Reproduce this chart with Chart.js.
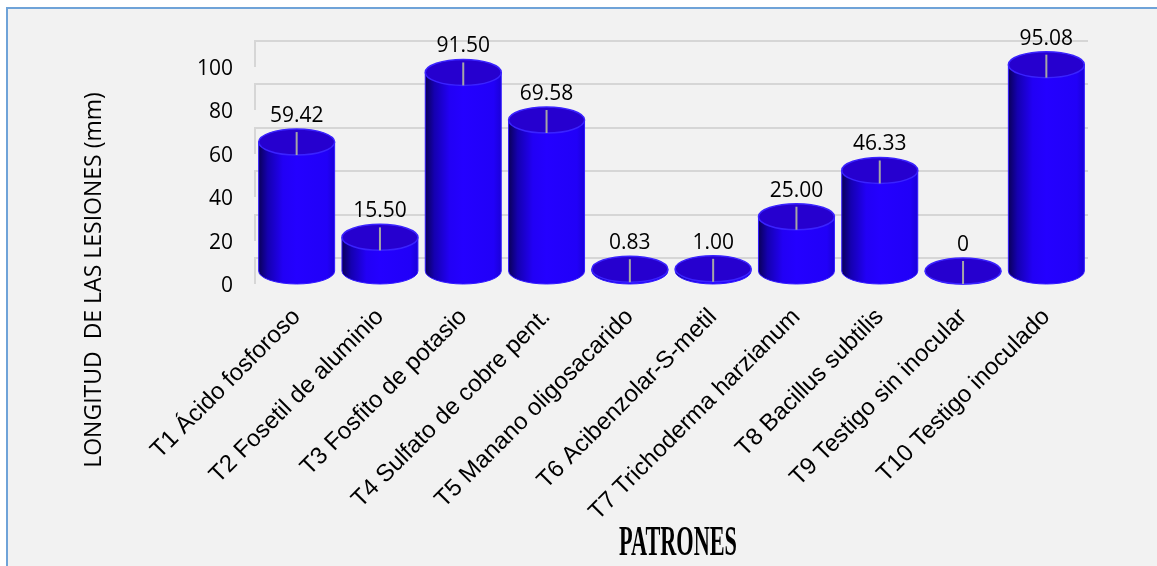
<!DOCTYPE html>
<html lang="es">
<head>
<meta charset="UTF-8">
<title>Longitud de las lesiones</title>
<style>
  html, body { margin: 0; padding: 0; background: #fff; }
  #marco {
    position: absolute; left: 6px; top: 7px; width: 1151px; height: 559px;
    box-sizing: border-box; background: #f2f2f2;
    border-left: 2px solid #6fa3d8; border-top: 2px solid #6fa3d8;
  }
  #contenedor { position: absolute; left: 0; top: 0; width: 1157px; height: 566px; }
</style>
</head>
<body>
<div id="marco"></div>
<div id="contenedor"><canvas id="grafico"></canvas></div>

<script src="https://cdn.jsdelivr.net/npm/chart.js"></script>
<script>
  // datos
  const tratamientos = [
    'T1 Ácido fosforoso', 'T2 Fosetil de aluminio', 'T3 Fosfito de potasio',
    'T4 Sulfato de cobre pent.', 'T5 Manano oligosacarido', 'T6 Acibenzolar-S-metil',
    'T7 Trichoderma harzianum', 'T8 Bacillus subtilis', 'T9 Testigo sin inocular',
    'T10 Testigo inoculado'
  ];
  const longitud = [59.42, 15.50, 91.50, 69.58, 0.83, 1.00, 25.00, 46.33, 0, 95.08];
  const marcasY = [0, 20, 40, 60, 80, 100];

  const tituloY = 'LONGITUD  DE LAS LESIONES (mm)';
  const tituloX = 'PATRONES';

  const PROF = 13;   // media profundidad (radio vertical de la elipse)

  // pared de fondo con lineas de division y la pared lateral
  const fondo3d = {
    id: 'fondo3d',
    beforeDatasetsDraw(chart) {
      const { ctx, chartArea, scales } = chart;
      ctx.save();
      ctx.strokeStyle = '#d6d6d6';
      ctx.lineWidth = 2;
      marcasY.forEach(v => {
        const y = Math.round(scales.y.getPixelForValue(v)) - PROF;
        ctx.beginPath();
        ctx.moveTo(chartArea.left, y + 2 * PROF);
        ctx.lineTo(chartArea.left, y);
        ctx.lineTo(chartArea.right, y);
        ctx.stroke();
      });
      ctx.restore();
    }
  };

  // cilindros dibujados sobre las barras (transparentes) de Chart.js
  const cilindros = {
    id: 'cilindros',
    afterDatasetsDraw(chart) {
      const { ctx } = chart;
      const meta = chart.getDatasetMeta(0);
      ctx.save();
      meta.data.forEach((barra, i) => {
        const { x, y, base, width } = barra.getProps(['x', 'y', 'base', 'width'], true);
        const rx = width / 2;
        const ry = PROF;

        const grad = ctx.createLinearGradient(x - rx, 0, x + rx, 0);
        grad.addColorStop(0, '#0a0058');
        grad.addColorStop(0.12, '#1500b0');
        grad.addColorStop(0.32, '#2200f5');
        grad.addColorStop(0.5, '#2400ff');
        grad.addColorStop(0.9, '#2100f8');
        grad.addColorStop(1, '#1a00d8');

        // cuerpo
        ctx.beginPath();
        ctx.moveTo(x - rx, y);
        ctx.lineTo(x - rx, base);
        ctx.ellipse(x, base, rx, ry, 0, Math.PI, 0, true);
        ctx.lineTo(x + rx, y);
        ctx.closePath();
        ctx.fillStyle = grad;
        ctx.fill();
        ctx.strokeStyle = '#3018ff';
        ctx.lineWidth = 1;
        ctx.stroke();

        // tapa
        ctx.beginPath();
        ctx.ellipse(x, y, rx, ry, 0, 0, Math.PI * 2);
        ctx.fillStyle = '#2600cf';
        ctx.fill();
        ctx.strokeStyle = '#3a22ff';
        ctx.lineWidth = 1.5;
        ctx.stroke();

        // linea gris en la tapa
        ctx.beginPath();
        ctx.moveTo(x, y - 10);
        ctx.lineTo(x, y + 13);
        ctx.strokeStyle = '#a6a6a6';
        ctx.lineWidth = 2;
        ctx.stroke();

        // etiqueta de valor
        const v = longitud[i];
        ctx.fillStyle = '#000';
        ctx.font = '21px "Open Sans"';
        ctx.textAlign = 'center';
        ctx.textBaseline = 'middle';
        ctx.fillText(v === 0 ? '0' : v.toFixed(2), x, y - ry - 13);
      });
      ctx.restore();
    }
  };

  // titulos de los ejes
  const titulos = {
    id: 'titulos',
    afterDraw(chart) {
      const { ctx } = chart;
      ctx.save();
      ctx.fillStyle = '#000';
      ctx.textAlign = 'center';
      ctx.textBaseline = 'middle';

      ctx.save();
      ctx.translate(94, 280);
      ctx.rotate(-Math.PI / 2);
      ctx.font = '23px "Open Sans"';
      ctx.fillText(tituloY, 0, 0);
      ctx.restore();

      ctx.save();
      ctx.translate(678, 544);
      ctx.scale(0.53, 1);
      ctx.font = 'bold 42px "Liberation Serif"';
      ctx.fillText(tituloX, 0, 0);
      ctx.restore();

      ctx.restore();
    }
  };

  const ctx = document.getElementById('grafico');

  new Chart(ctx, {
    type: 'bar',
    data: {
      labels: tratamientos,
      datasets: [{
        label: 'Longitud de las lesiones',
        data: longitud,
        backgroundColor: 'rgba(0,0,0,0)',
        borderWidth: 0,
        barPercentage: 0.912,
        categoryPercentage: 1
      }]
    },
    options: {
      responsive: true,
      maintainAspectRatio: false,
      animation: false,
      layout: { padding: { left: 0, right: 69, top: 54, bottom: 0 } },
      plugins: {
        legend: { display: false },
        tooltip: { enabled: false }
      },
      scales: {
        x: {
          grid: { display: false, drawTicks: false },
          border: { display: false },
          ticks: {
            autoSkip: false,
            minRotation: 45,
            maxRotation: 45,
            padding: 32,
            color: '#000',
            font: { family: 'Liberation Sans', size: 24 }
          },
          afterFit(scale) { scale.height = 295; }
        },
        y: {
          min: 0,
          max: 100,
          grid: { display: false, drawTicks: false },
          border: { display: false },
          afterBuildTicks(scale) { scale.ticks = marcasY.map(v => ({ value: v })); },
          ticks: {
            labelOffset: 15,
            padding: 22,
            color: '#000',
            font: { family: 'Open Sans', size: 21 }
          },
          afterFit(scale) { scale.width = 255; }
        }
      }
    },
    plugins: [fondo3d, cilindros, titulos]
  });
</script>
</body>
</html>
